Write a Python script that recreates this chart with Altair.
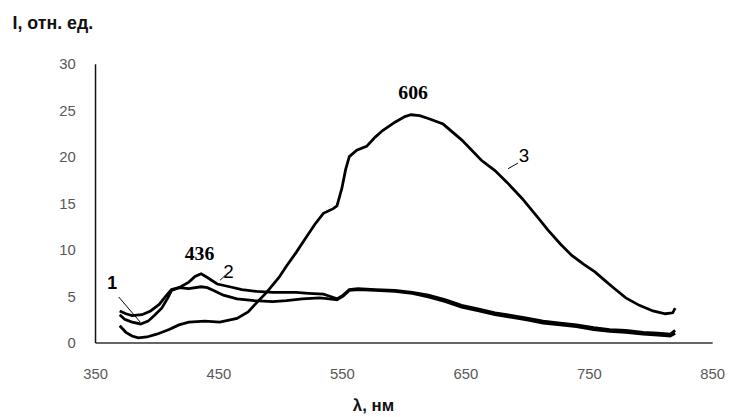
import altair as alt
import pandas as pd

# curve 1
x1 = [370, 374, 380, 387, 393, 398, 404, 409, 412, 418, 426, 436, 441, 446, 454, 465, 479, 494, 505, 518,
      532, 540, 546, 551, 556, 563, 577, 593, 607, 620, 634, 647, 661, 674, 688, 701, 713, 727, 740, 754,
      767, 780, 794, 806, 816, 820]
y1 = [3.0, 2.5, 2.2, 2.0, 2.3, 2.9, 3.7, 4.8, 5.6, 5.9, 5.8, 6.0, 5.9, 5.6, 5.1, 4.7, 4.5, 4.4, 4.5, 4.7,
      4.8, 4.7, 4.6, 5.0, 5.6, 5.7, 5.6, 5.5, 5.3, 4.9, 4.4, 3.8, 3.4, 3.0, 2.7, 2.4, 2.1, 1.9, 1.7, 1.4,
      1.2, 1.1, 0.9, 0.8, 0.7, 1.0]
# curve 2
x2 = [370, 375, 380, 388, 395, 402, 408, 412, 418, 426, 431, 436, 441, 449, 459, 469, 481, 494, 513, 523,
      535, 542, 546, 551, 556, 563, 577, 593, 607, 620, 634, 647, 661, 674, 688, 701, 713, 727, 740, 754,
      767, 780, 794, 806, 816, 820]
y2 = [3.4, 3.1, 2.9, 3.0, 3.4, 4.1, 5.1, 5.7, 5.9, 6.5, 7.1, 7.4, 7.0, 6.3, 6.0, 5.7, 5.5, 5.4, 5.4, 5.3,
      5.2, 4.9, 4.7, 5.1, 5.7, 5.8, 5.7, 5.6, 5.4, 5.1, 4.6, 4.0, 3.6, 3.2, 2.9, 2.6, 2.3, 2.1, 1.9, 1.6,
      1.4, 1.3, 1.1, 1.0, 0.9, 1.3]
# curve 3
x3 = [370, 375, 380, 385, 392, 400, 410, 418, 426, 439, 451, 465, 474, 481, 489, 499, 505, 513, 520, 528,
      535, 543, 546, 550, 553, 556, 562, 570, 577, 583, 593, 601, 606, 613, 620, 632, 647, 663, 674, 684,
      696, 709, 717, 727, 736, 746, 755, 762, 770, 780, 791, 802, 812, 818, 820]
y3 = [1.8, 1.1, 0.7, 0.5, 0.6, 0.9, 1.4, 1.9, 2.2, 2.3, 2.2, 2.6, 3.3, 4.3, 5.4, 7.0, 8.2, 9.7, 11.1, 12.7,
      13.9, 14.4, 14.7, 16.6, 18.6, 20.0, 20.7, 21.1, 22.1, 22.8, 23.7, 24.3, 24.5, 24.4, 24.1, 23.5, 21.8, 19.6, 18.5, 17.2,
      15.5, 13.4, 12.1, 10.6, 9.4, 8.4, 7.6, 6.8, 5.9, 4.8, 4.0, 3.4, 3.1, 3.2, 3.7]

x_ticks = [350, 450, 550, 650, 750, 850]
y_ticks = [0, 5, 10, 15, 20, 25, 30]

peak_text = ["436", "606"]
peak_x = [434.6, 607.7]
peak_y = [9.5, 26.8]

bold_num_text = ["1"]
bold_num_x = [363.9]
bold_num_y = [6.3]

num_text = ["2", "3"]
num_x = [458.2, 697.5]
num_y = [7.6, 20.1]

lead_x = [369.2, 451.3, 684.6]
lead_y = [4.9, 6.7, 18.7]
lead_x2 = [386.6, 455.3, 692.6]
lead_y2 = [2.2, 7.2, 19.3]

rows = []
for name, xs, ys in (("1", x1, y1), ("2", x2, y2), ("3", x3, y3)):
    for a, b in zip(xs, ys):
        rows.append({"s": name, "x": a, "y": b})
curves = pd.DataFrame(rows)

xscale = alt.Scale(domain=[350, 850], nice=False)
yscale = alt.Scale(domain=[0, 30], nice=False)

xaxis = alt.Axis(values=x_ticks, ticks=False, grid=False, domainColor="#333333", domainWidth=1.5,
                 labelColor="#595959", labelFont="Liberation Sans", labelFontSize=15, labelPadding=24,
                 labelFlush=False, labelOverlap=False,
                 title="λ, нм", titleFont="Liberation Sans", titleFontSize=17, titleFontWeight="bold",
                 titleColor="#111111", titleAnchor="start", titleAlign="center", titleBaseline="middle",
                 titleX=281, titleY=64)
yaxis = alt.Axis(values=y_ticks, ticks=False, grid=False, domainColor="#111111", domainWidth=1.5,
                 labelColor="#595959", labelFont="Liberation Sans", labelFontSize=15, labelPadding=20,
                 labelFlush=False, labelOverlap=False,
                 title="I, отн. ед.", titleFont="Liberation Sans", titleFontSize=18, titleFontWeight="bold",
                 titleColor="#111111", titleAngle=0, titleAlign="left", titleBaseline="middle",
                 titleX=-84, titleY=-41)

lines = alt.Chart(curves).mark_line(color="black", strokeWidth=2.8).encode(
    x=alt.X("x:Q", scale=xscale, axis=xaxis),
    y=alt.Y("y:Q", scale=yscale, axis=yaxis),
    detail="s:N",
)

peaks = alt.Chart(pd.DataFrame({"t": peak_text, "x": peak_x, "y": peak_y})).mark_text(
    font="Liberation Serif", fontSize=20, fontWeight="bold", color="black", baseline="middle"
).encode(x=alt.X("x:Q", scale=xscale), y=alt.Y("y:Q", scale=yscale), text="t:N")

nums_bold = alt.Chart(pd.DataFrame({"t": bold_num_text, "x": bold_num_x, "y": bold_num_y})).mark_text(
    font="Liberation Sans", fontSize=18, fontWeight="bold", color="black", baseline="middle"
).encode(x=alt.X("x:Q", scale=xscale), y=alt.Y("y:Q", scale=yscale), text="t:N")

nums = alt.Chart(pd.DataFrame({"t": num_text, "x": num_x, "y": num_y})).mark_text(
    font="Liberation Sans", fontSize=19, color="black", baseline="middle"
).encode(x=alt.X("x:Q", scale=xscale), y=alt.Y("y:Q", scale=yscale), text="t:N")

leads = alt.Chart(pd.DataFrame({"x": lead_x, "y": lead_y, "x2": lead_x2, "y2": lead_y2})).mark_rule(
    color="black", strokeWidth=1
).encode(x=alt.X("x:Q", scale=xscale), y=alt.Y("y:Q", scale=yscale), x2="x2:Q", y2="y2:Q")

chart = alt.layer(lines, leads, peaks, nums_bold, nums).properties(
    width=624, height=282,
    autosize=alt.AutoSizeParams(type="none"),
    padding={"left": 88, "top": 54, "right": 18, "bottom": 72},
).configure_view(stroke=None)

chart.save("out.html", embed_options={"renderer": "svg", "actions": False})
